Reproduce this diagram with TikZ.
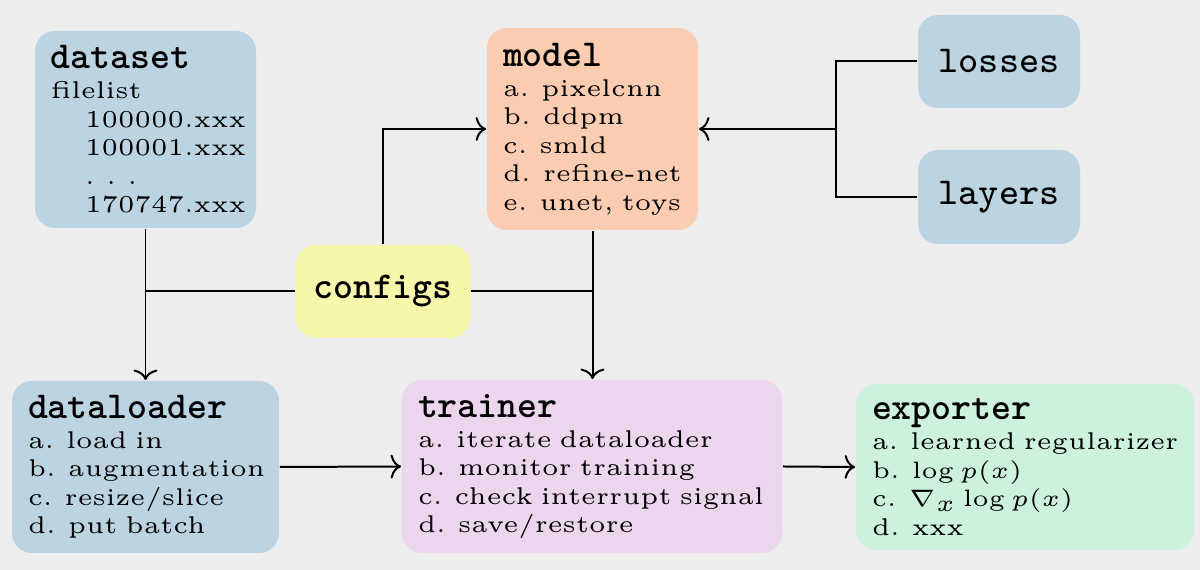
\documentclass[tikz,border=0pt]{standalone}
\usepackage{amsmath}
\usetikzlibrary{arrows.meta}
\definecolor{bgcol}{RGB}{237,237,237}
\definecolor{boxblue}{RGB}{188,212,226}
\definecolor{boxorange}{RGB}{250,204,178}
\definecolor{boxyellow}{RGB}{248,246,170}
\definecolor{boxpurple}{RGB}{236,214,238}
\definecolor{boxgreen}{RGB}{204,242,222}
\newcommand{\pxu}{0.2105pt}
\newcommand{\ttl}[1]{\mbox{\footnotesize\ttfamily\bfseries #1}}
\newcommand{\itm}[1]{\mbox{#1}}
\newcommand{\ind}{\hspace*{7.2pt}}
\tikzset{
  box/.style={rounded corners=4.2pt, inner xsep=16*\pxu, inner ysep=0pt, align=left, font=\fontsize{5.1}{6}\selectfont},
  tagbox/.style={rounded corners=4.2pt, inner sep=0pt, align=center, font=\footnotesize\ttfamily},
  conn/.style={line width=0.42pt, black},
  arr/.style={conn, -{Computer Modern Rightarrow[width=5pt,length=2.2pt]}},
}
\begin{document}
\begin{tikzpicture}[x=0.2105pt, y=-0.2105pt]
\fill[bgcol] (0,0) rectangle (1200,570);
\useasboundingbox (0,0) rectangle (1200,570);

\node[box, fill=boxblue, text width=189*\pxu, minimum height=197*\pxu] (dataset) at (145.5,129.5)
 {\ttl{dataset}\\[0.3pt] \itm{filelist}\\ \ind\itm{100000.xxx}\\ \ind\itm{100001.xxx}\\ \ind\itm{.\hspace{2.4pt}.\hspace{2.4pt}.}\\ \ind\itm{170747.xxx}};

\node[box, fill=boxorange, text width=179*\pxu, minimum height=202*\pxu] (model) at (592.5,129)
 {\ttl{model}\\[0.3pt] \itm{a. pixelcnn}\\ \itm{b. ddpm}\\ \itm{c. smld}\\ \itm{d. refine-net}\\ \itm{e. unet, toys}};

\node[tagbox, fill=boxblue, minimum width=162*\pxu, minimum height=93*\pxu] (losses) at (999,61.5) {losses};
\node[tagbox, fill=boxblue, minimum width=162*\pxu, minimum height=94*\pxu] (layers) at (999,197) {layers};
\node[tagbox, fill=boxyellow, font=\footnotesize\ttfamily\bfseries, minimum width=174*\pxu, minimum height=93*\pxu] (configs) at (383,291.5) {configs};

\node[box, fill=boxblue, text width=235*\pxu, minimum height=172*\pxu] (dataloader) at (145.5,467)
 {\ttl{dataloader}\\[0.3pt] \itm{a. load in}\\ \itm{b. augmentation}\\ \itm{c. resize/slice}\\ \itm{d. put batch}};

\node[box, fill=boxpurple, text width=348*\pxu, minimum height=173*\pxu] (trainer) at (592,466.5)
 {\ttl{trainer}\\[0.3pt] \itm{a. iterate dataloader}\\ \itm{b. monitor training}\\ \itm{c. check interrupt signal}\\ \itm{d. save/restore}};

\node[box, fill=boxgreen, text width=306*\pxu, minimum height=166*\pxu] (exporter) at (1025,467)
 {\ttl{exporter}\\[0.3pt] \itm{a. learned regularizer}\\ \itm{b. $\log p(x)$}\\ \itm{c. $\nabla_x \log p(x)$}\\ \itm{d. xxx}};

% connectors
\coordinate (jl) at (836,129);
\draw[arr] (dataset.south) -- (dataloader.north);
\draw[conn] (configs.west) -- (dataset.south |- configs.west);
\draw[arr] (configs.north) |- (model.west);
\draw[conn] (configs.east) -- (model.south |- configs.east);
\draw[arr] (model.south) -- (model.south |- trainer.north);
\draw[conn] (losses.west) -| (jl) |- (layers.west);
\draw[arr] (jl) -- (model.east);
\draw[arr] (dataloader.east) -- (trainer.west);
\draw[arr] (trainer.east) -- (exporter.west);
\end{tikzpicture}
\end{document}
